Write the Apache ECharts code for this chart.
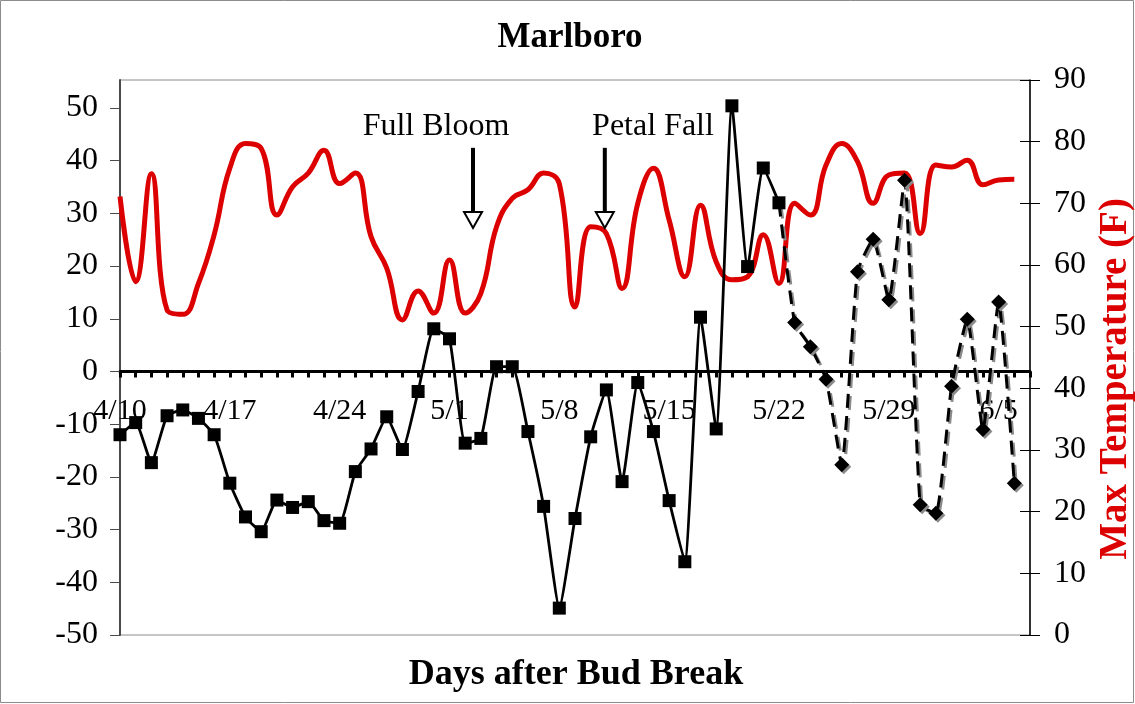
<!DOCTYPE html>
<html>
<head>
<meta charset="utf-8">
<script src="https://cdn.jsdelivr.net/npm/echarts@6/dist/echarts.min.js"></script>
<style>
html,body{margin:0;padding:0;background:#fff;}
#c{width:1135px;height:704px;}
</style>
</head>
<body>
<div id="c"></div>
<script>
// Categories (days, 4/10 .. 6/7)
const categories = [
  '4/10','4/11','4/12','4/13','4/14','4/15','4/16','4/17','4/18','4/19','4/20','4/21','4/22','4/23','4/24','4/25','4/26','4/27','4/28','4/29','4/30',
  '5/1','5/2','5/3','5/4','5/5','5/6','5/7','5/8','5/9','5/10','5/11','5/12','5/13','5/14','5/15','5/16','5/17','5/18','5/19','5/20','5/21','5/22','5/23','5/24','5/25','5/26','5/27','5/28','5/29','5/30','5/31',
  '6/1','6/2','6/3','6/4','6/5','6/6','6/7'
];
// Labelled days (every 7th day)
const tickLabels = ['4/10', '4/17', '4/24', '5/1', '5/8', '5/15', '5/22', '5/29', '6/5'];
// Left axis series (solid, squares) 4/10 .. 5/22
const solidVals = [-12.0, -9.7, -17.3, -8.4, -7.3, -8.9, -12.0, -21.2, -27.6, -30.4, -24.4, -25.8, -24.7, -28.3, -28.8, -19.0, -14.7, -8.6, -14.8, -3.8, 8.1, 6.2, -13.6, -12.7, 0.9, 0.9, -11.4, -25.6, -44.9, -27.9, -12.4, -3.5, -20.9, -2.1, -11.4, -24.5, -36.1, 10.3, -10.9, 50.4, 19.9, 38.6, 32.0];
// Left axis series (dashed, diamonds) 5/23 .. 6/6
const dashedVals = [9.3, 4.7, -1.5, -17.7, 18.9, 25.1, 13.6, 36.3, -25.3, -26.9, -2.8, 9.9, -11.0, 13.2, -21.2];
// Max temperature (F), right axis, 4/10 .. 6/6
const maxTemp = [71.1, 57.3, 74.8, 52.7, 52.0, 57.0, 64.9, 75.7, 79.7, 78.9, 68.1, 72.7, 74.9, 78.6, 73.2, 74.9, 64.6, 59.5, 51.1, 55.8, 52.2, 60.8, 52.2, 55.4, 66.2, 70.8, 72.2, 74.9, 73.2, 53.2, 66.2, 65.1, 56.2, 70.0, 75.7, 67.3, 58.1, 69.7, 60.5, 57.6, 58.1, 64.9, 57.0, 70.0, 68.1, 76.2, 79.7, 76.8, 70.0, 74.6, 74.9, 65.1, 76.2, 75.9, 77.0, 73.0, 73.8, 73.9];
const leftTicks = [-50, -40, -30, -20, -10, 0, 10, 20, 30, 40, 50];
const rightTicks = [0, 10, 20, 30, 40, 50, 60, 70, 80, 90];

const FONT = '"Liberation Serif", "Times New Roman", serif';
const RED = '#dc0000';

const solidData = categories.map((c, i) => i < solidVals.length ? solidVals[i] : null);
const dashedData = categories.map((c, i) => {
  const start = solidVals.length;
  if (i === start - 1) return { value: solidVals[i], symbol: 'none' };
  if (i >= start && i - start < dashedVals.length) return dashedVals[i - start];
  return null;
});
const tempData = categories.map((c, i) => i < maxTemp.length ? maxTemp[i] : null);

const chart = echarts.init(document.getElementById('c'), null, { renderer: 'canvas' });

const option = {
  animation: false,
  backgroundColor: '#fff',
  grid: {
    left: 120, right: 105, top: 80, bottom: 69,
    show: true, borderColor: '#8c8c8c', borderWidth: 1, backgroundColor: 'transparent'
  },
  xAxis: [
    {
      type: 'category',
      data: categories,
      boundaryGap: false,
      axisLine: { onZero: true, onZeroAxisIndex: 0, lineStyle: { color: '#000', width: 3 } },
      axisTick: { show: true, interval: 0, length: 6, lineStyle: { color: '#000', width: 3 } },
      axisLabel: { show: false },
      splitLine: { show: false }
    },
    {
      type: 'category',
      data: categories,
      boundaryGap: false,
      position: 'bottom',
      offset: 0,
      axisLine: { show: false, onZero: false },
      axisTick: { show: false },
      axisLabel: {
        interval: (idx, val) => tickLabels.indexOf(val) >= 0,
        hideOverlap: false,
        margin: 25, fontFamily: FONT, fontSize: 30, color: '#000'
      },
      splitLine: { show: false }
    }
  ],
  yAxis: [
    {
      type: 'value', position: 'left', min: -50, max: 55.3,
      axisLine: { show: true, lineStyle: { color: '#4a4a4a', width: 2 } },
      axisTick: { show: true, length: 10, customValues: leftTicks, lineStyle: { color: '#4a4a4a', width: 1 } },
      axisLabel: { customValues: leftTicks, margin: 22, fontFamily: FONT, fontSize: 32, color: '#000' },
      splitLine: { show: false }
    },
    {
      type: 'value', position: 'right', min: 0, max: 90,
      axisLine: { show: true, lineStyle: { color: '#000', width: 1.5 } },
      axisTick: { show: true, length: 10, customValues: rightTicks, lineStyle: { color: '#000', width: 1 } },
      axisLabel: { customValues: rightTicks, margin: 24, fontFamily: FONT, fontSize: 32, color: '#000' },
      splitLine: { show: false }
    },
    {
      type: 'value', position: 'right', min: 0, max: 90,
      axisLine: { show: false },
      axisTick: { show: true, inside: true, length: 10, customValues: rightTicks, lineStyle: { color: '#000', width: 1 } },
      axisLabel: { show: false },
      splitLine: { show: false }
    }
  ],
  series: [
    {
      name: 'Max Temperature', type: 'line', yAxisIndex: 1, data: tempData,
      smooth: 0.45, showSymbol: false, symbol: 'none',
      lineStyle: { color: RED, width: 5 }, z: 2
    },
    {
      name: 'solid', type: 'line', yAxisIndex: 0, data: solidData,
      smooth: 0.15, symbol: 'rect', symbolSize: 13, showAllSymbol: true,
      itemStyle: { color: '#000' },
      lineStyle: { color: '#000', width: 2.8 }, z: 4
    },
    {
      name: 'dashed', type: 'line', yAxisIndex: 0, data: dashedData,
      smooth: 0.15, symbol: 'diamond', symbolSize: 15, showAllSymbol: true,
      itemStyle: { color: '#000', shadowColor: '#8a8a8a', shadowOffsetX: 2, shadowOffsetY: 2, shadowBlur: 0 },
      lineStyle: { color: '#000', width: 3, type: [14, 8], shadowColor: '#8a8a8a', shadowOffsetX: 2, shadowOffsetY: 2, shadowBlur: 0 },
      z: 4
    }
  ]
};
chart.setOption(option);

// move the label-only x axis up to the zero line
const zeroY = chart.convertToPixel({ yAxisIndex: 0 }, 0);
const bottomY = chart.convertToPixel({ yAxisIndex: 0 }, -50);
chart.setOption({ xAxis: [{}, { offset: -(bottomY - zeroY) }] });

function px(i, v) {
  const f = Math.floor(i);
  const a = chart.convertToPixel({ xAxisIndex: 0, yAxisIndex: 1 }, [f, v]);
  const b = chart.convertToPixel({ xAxisIndex: 0, yAxisIndex: 1 }, [f + 1, v]);
  return [a[0] + (i - f) * (b[0] - a[0]), a[1]];
}
function arrow(i) {
  const top = px(i, 79);
  const mid = px(i, 68.6);
  const tip = px(i, 66.0);
  return [
    { type: 'line', shape: { x1: top[0], y1: top[1], x2: mid[0], y2: mid[1] }, style: { stroke: '#000', lineWidth: 4 }, z: 10 },
    { type: 'polygon', shape: { points: [[mid[0] - 9, mid[1]], [mid[0] + 9, mid[1]], [tip[0], tip[1]]] }, style: { fill: '#fff', stroke: '#000', lineWidth: 2 }, z: 10 }
  ];
}
const fb = px(20.14, 82.5);
const pf = px(33.97, 82.5);

chart.setOption({
  graphic: [
    { type: 'rect', shape: { x: 0.5, y: 0.5, width: 1133, height: 702 }, style: { fill: 'none', stroke: '#8c8c8c', lineWidth: 1 }, z: 0, silent: true },
    { type: 'text', x: 570, y: 38, style: { text: 'Marlboro', font: 'bold 35px ' + FONT, fill: '#000', align: 'center', verticalAlign: 'middle' }, z: 10 },
    { type: 'text', x: 576, y: 675, style: { text: 'Days after Bud Break', font: 'bold 36px ' + FONT, fill: '#000', align: 'center', verticalAlign: 'middle' }, z: 10 },
    { type: 'text', x: 1116, y: 379, rotation: Math.PI / 2, style: { text: 'Max Temperature (F)', font: 'bold 39px ' + FONT, fill: RED, align: 'center', verticalAlign: 'middle' }, z: 10 },
    { type: 'text', x: fb[0], y: fb[1], style: { text: 'Full Bloom', font: '32px ' + FONT, fill: '#000', align: 'center', verticalAlign: 'middle' }, z: 10 },
    { type: 'text', x: pf[0], y: pf[1], style: { text: 'Petal Fall', font: '32px ' + FONT, fill: '#000', align: 'center', verticalAlign: 'middle' }, z: 10 }
  ].concat(arrow(22.5), arrow(30.9))
});
</script>
</body>
</html>
